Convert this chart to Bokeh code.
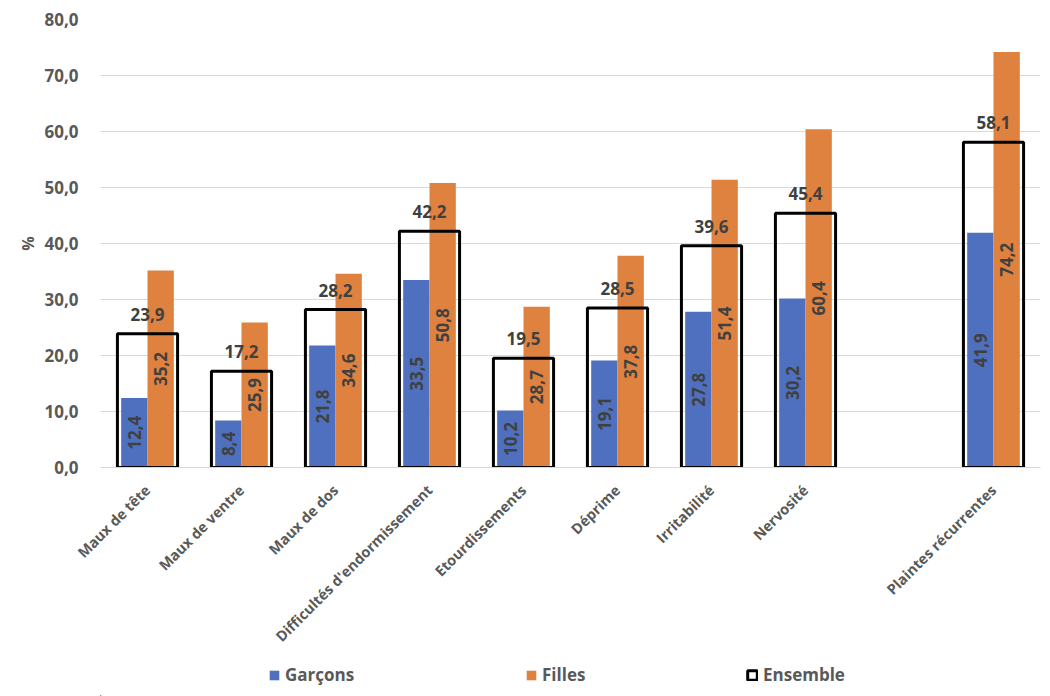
import math
from bokeh.plotting import figure
from bokeh.layouts import column
from bokeh.models import ColumnDataSource, FactorRange, Legend, LegendItem, FixedTicker, Range1d
from bokeh.transform import dodge
from bokeh.core.properties import value
from bokeh.embed import file_html
from bokeh.resources import INLINE

categories = ["Maux de tête", "Maux de ventre", "Maux de dos", "Difficultés d'endormissement",
              "Etourdissements", "Déprime", "Irritabilité", "Nervosité", "Plaintes récurrentes"]
garcons = [12.4, 8.4, 21.8, 33.5, 10.2, 19.1, 27.8, 30.2, 41.9]
filles = [35.2, 25.9, 34.6, 50.8, 28.7, 37.8, 51.4, 60.4, 74.2]
ensemble = [23.9, 17.2, 28.2, 42.2, 19.5, 28.5, 39.6, 45.4, 58.1]
series_names = ["Garçons", "Filles", "Ensemble"]
y_ticks = [0, 10, 20, 30, 40, 50, 60, 70, 80]
y_tick_labels = ["0,0", "10,0", "20,0", "30,0", "40,0", "50,0", "60,0", "70,0", "80,0"]

factors = categories[:8] + [" "] + categories[8:]

def fmt(v):
    return f"{v:.1f}".replace(".", ",")

src = ColumnDataSource(dict(
    cat=categories, g=garcons, f=filles, e=ensemble,
    g_mid=[v / 2 for v in garcons], f_mid=[v / 2 for v in filles],
    g_lab=[fmt(v) for v in garcons], f_lab=[fmt(v) for v in filles], e_lab=[fmt(v) for v in ensemble],
))

BLUE = "#4E70BE"
ORANGE = "#E0823F"
FONT = "Open Sans"
LABEL_COLOR = "#404040"
AXIS_COLOR = "#595959"

p = figure(width=1050, height=655, output_backend="svg", toolbar_location=None,
           x_range=FactorRange(factors=factors, range_padding=0), y_range=Range1d(0, 80),
           min_border_left=100, min_border_right=10, min_border_top=19, min_border_bottom=188)
p.outline_line_color = None

p.vbar(x=dodge("cat", -0.14, range=p.x_range), top="g", bottom=0, width=0.28, source=src,
       fill_color=BLUE, line_color=None)
p.vbar(x=dodge("cat", 0.14, range=p.x_range), top="f", bottom=0, width=0.28, source=src,
       fill_color=ORANGE, line_color=None)
p.vbar(x="cat", top="e", bottom=0, width=0.64, source=src, fill_alpha=0,
       line_color="black", line_width=3)

p.text(x=dodge("cat", -0.14, range=p.x_range), y="g_mid", text="g_lab", source=src, angle=math.pi / 2,
       text_align="center", text_baseline="middle", text_font=value(FONT), text_font_style="bold",
       text_font_size="17px", text_color=LABEL_COLOR)
p.text(x=dodge("cat", 0.14, range=p.x_range), y="f_mid", text="f_lab", source=src, angle=math.pi / 2,
       text_align="center", text_baseline="middle", text_font=value(FONT), text_font_style="bold",
       text_font_size="17px", text_color=LABEL_COLOR)
p.text(x="cat", y="e", text="e_lab", source=src, y_offset=-13,
       text_align="center", text_baseline="bottom", text_font=value(FONT), text_font_style="bold",
       text_font_size="17px", text_color=LABEL_COLOR)

yt = FixedTicker(ticks=y_ticks)
p.xgrid.grid_line_color = None
p.ygrid.ticker = yt
p.ygrid.grid_line_color = "#D9D9D9"
p.ygrid.grid_line_width = 1
p.yaxis.ticker = yt
p.yaxis.major_label_overrides = {t: l for t, l in zip(y_ticks, y_tick_labels)}
p.yaxis.axis_line_color = None
p.yaxis.major_tick_line_color = None
p.yaxis.minor_tick_line_color = None
p.yaxis.major_label_standoff = 16
p.yaxis.major_label_text_font = FONT
p.yaxis.major_label_text_font_style = "bold"
p.yaxis.major_label_text_font_size = "17px"
p.yaxis.major_label_text_color = AXIS_COLOR
p.yaxis.axis_label = "%"
p.yaxis.axis_label_standoff = 2
p.yaxis.axis_label_text_font = FONT
p.yaxis.axis_label_text_font_style = "bold"
p.yaxis.axis_label_text_font_size = "16px"
p.yaxis.axis_label_text_color = AXIS_COLOR

p.xaxis.axis_line_color = "#D9D9D9"
p.xaxis.major_tick_line_color = None
p.xaxis.minor_tick_line_color = None
p.xaxis.major_label_orientation = math.pi / 4
p.xaxis.major_label_standoff = 14
p.xaxis.major_label_text_font = FONT
p.xaxis.major_label_text_font_style = "bold"
p.xaxis.major_label_text_font_size = "14.5px"
p.xaxis.major_label_text_color = AXIS_COLOR

# legend strip below the chart (its frame is aligned with the chart's frame)
lg = figure(width=1050, height=41, output_backend="svg", toolbar_location=None,
            x_range=Range1d(0, 1), y_range=Range1d(0, 1),
            x_axis_location=None, y_axis_location=None, min_border=0)
lg.outline_line_color = None
lg.grid.grid_line_color = None
# legend-key proxies, kept far outside the visible range of the strip
proxy = ColumnDataSource(dict(x=[-50.0], top=[-50.0], bottom=[-51.0]))
lr = [
    lg.vbar(x="x", top="top", bottom="bottom", width=0.1, source=proxy, fill_color=BLUE, line_color=None),
    lg.vbar(x="x", top="top", bottom="bottom", width=0.1, source=proxy, fill_color=ORANGE, line_color=None),
    lg.vbar(x="x", top="top", bottom="bottom", width=0.1, source=proxy, fill_alpha=0,
            line_color="black", line_width=3),
]
for name, r, x0 in zip(series_names, lr, [168, 425, 646]):
    leg = Legend(items=[LegendItem(label=name, renderers=[r])], location=(x0, 10),
                 glyph_width=12, glyph_height=12, label_standoff=5, padding=0, margin=0,
                 border_line_alpha=0, background_fill_alpha=0,
                 label_text_font=FONT, label_text_font_style="bold", label_text_font_size="17px",
                 label_text_color=AXIS_COLOR)
    lg.add_layout(leg)

open("out.html", "w").write(file_html(column(p, lg, spacing=0), INLINE))
